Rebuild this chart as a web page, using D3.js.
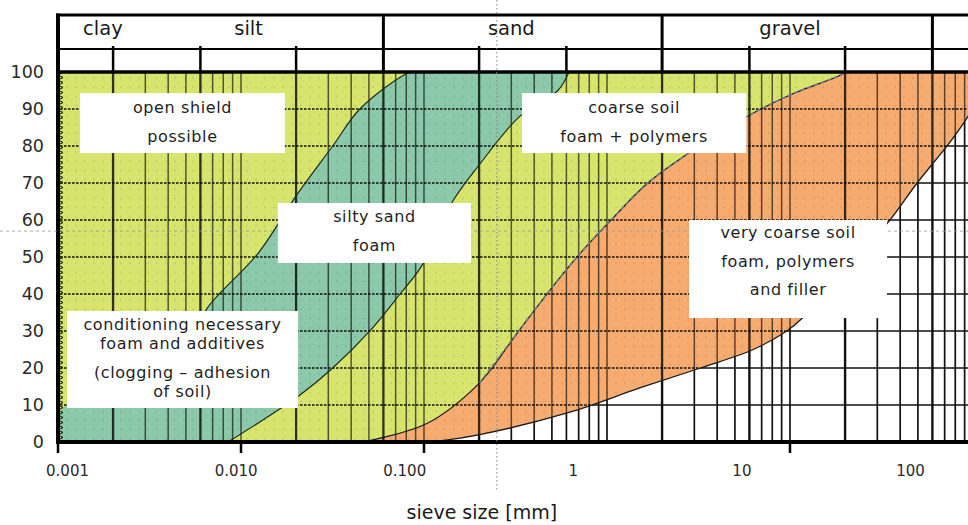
<!DOCTYPE html>
<html>
<head>
<meta charset="utf-8">
<script src="https://cdn.jsdelivr.net/npm/d3@7"></script>
<style>
  body { margin: 0; background: #fff; }
  svg { display: block; }
  text { font-family: "DejaVu Sans", Verdana, sans-serif; }
</style>
</head>
<body>
<svg id="chart" width="968" height="525"></svg>
<script>
// ---- data ---------------------------------------------------------------
// soil classes named in the top band
const soilClasses   = ["clay", "silt", "sand", "gravel"];
const classLabelAt  = [0.00176, 0.011, 0.30, 10];           // mm, where each name sits
const classBounds   = [0.06, 2, 60];                        // full-height dividers (mm)
const subBounds     = [0.002, 0.006, 0.02, 0.2, 0.6, 6, 20]; // short dividers (mm)

// axes
const yTicks        = [0, 10, 20, 30, 40, 50, 60, 70, 80, 90, 100];
const xTickText     = ["0.001", "0.010", "0.100", "1", "10", "100"];
const xTickValues   = [0.001, 0.01, 0.1, 1, 10, 100];
const xTickMarks    = [0.001, 0.01, 0.1, 10];

// grading envelopes: [sieve size mm, % passing]
const tealUpper   = [[0.001, 0], [0.00105, 9], [0.0012, 10.5], [0.002, 12], [0.004, 18], [0.0055, 28],
                     [0.0065, 36], [0.0124, 51], [0.0203, 67], [0.0317, 80], [0.0446, 90], [0.0765, 99], [0.0861, 100]];
const tealLower   = [[0.0085, 0], [0.021, 12.7], [0.0317, 20], [0.0527, 31], [0.074, 40], [0.0984, 48],
                     [0.1433, 65], [0.2011, 75], [0.3335, 88], [0.539, 95], [0.6201, 100]];
const orangeUpper = [[0.0464, 0], [0.1036, 5], [0.2011, 16], [0.3237, 29.5], [0.5053, 42], [0.7433, 52],
                     [1.1, 61], [1.67, 70], [3.2, 80], [5.835, 88], [10.22, 94], [18.6, 99], [20.1, 100]];
const orangeLower = [[0.11, 0], [0.2011, 2], [0.6201, 8], [1.51, 14.6], [3.24, 20], [6.3, 25], [9.6, 30],
                     [11.7, 33.5], [33.9, 59], [49.5, 70], [74.7, 81], [94, 88], [123, 98], [131, 100]];

// annotation boxes: text lines, box extent [d0, d1, pTop, pBottom], baseline offsets (px)
const boxText = [
  ["open shield", "possible"],
  ["silty sand", "foam"],
  ["coarse soil", "foam + polymers"],
  ["very coarse soil", "foam, polymers", "and filler"],
  ["conditioning necessary", "foam and additives", "(clogging \u2013 adhesion", "of soil)"]
];
const boxExtent = [
  [0.00132, 0.01736, 94.3, 78.1],
  [0.0159, 0.1806, 64.6, 48.4],
  [0.343, 5.77, 94.3, 78.1],
  [2.81, 33.9, 60, 33.5],
  [0.00112, 0.0205, 35.4, 9.2]
];
const boxBaselines = [[20, 49], [19, 48], [20, 49], [18, 47, 75], [19, 38, 67, 86]];

// crosshair guide
const guideD = 0.25, guideP = 57;

// ---- layout -------------------------------------------------------------
const svg = d3.select("#chart");
const W = 968, H = 525;
const x = d3.scaleLog().domain([0.001, 1000]).range([58, 1156]);
const y = d3.scaleLinear().domain([0, 100]).range([442, 72]);
const xRight = W;
// tick labels of this chart sit on their own (slightly compressed) log row
const xLabel = d3.scaleLog().domain([0.001, 100]).range([67, 910]);

const colors = { green: "#d7e46e", teal: "#8cc8aa", orange: "#f6ab70" };

const seg = pts => d3.line()
  .x(d => x(d[0])).y(d => y(d[1]))
  .curve(d3.curveCatmullRom.alpha(0.5))(pts);
const cont = pts => seg(pts).replace(/^M/, "L");
const rev = a => a.slice().reverse();

// minor log grid values across visible range
const gridX = [];
for (let e = -3; e <= 2; e++) for (let m = 1; m <= 9; m++) gridX.push(m * Math.pow(10, e));
const heavyX = new Set([...subBounds, ...classBounds, 0.001]);
const innerY = yTicks.slice(1, -1);

const defs = svg.append("defs");

// colored union (everything left of the coarse envelope's lower edge)
const unionPath = `M${x(0.001)},${y(0)}L${x(0.001)},${y(100)}L${x(131)},${y(100)}` +
  cont(rev(orangeLower)) + "Z";
defs.append("clipPath").attr("id", "colored").append("path").attr("d", unionPath);
defs.append("clipPath").attr("id", "plot").append("rect")
  .attr("x", x(0.001)).attr("y", y(100)).attr("width", xRight - x(0.001)).attr("height", y(0) - y(100));

// dotted texture inside the colored bands
const pat = defs.append("pattern").attr("id", "dots").attr("patternUnits", "userSpaceOnUse")
  .attr("width", 9).attr("height", 9.25);
pat.append("circle").attr("cx", 4).attr("cy", 4).attr("r", 0.8).attr("fill", "#000").attr("opacity", 0.15);

// short dashes for the tinted horizontal grid
const dash = defs.append("pattern").attr("id", "hdash").attr("patternUnits", "userSpaceOnUse")
  .attr("width", 4).attr("height", 2);
dash.append("rect").attr("width", 2.6).attr("height", 2).attr("fill", "#000").attr("fill-opacity", 0.68);

// serrated texture along the left axis
const teeth = defs.append("pattern").attr("id", "teeth").attr("patternUnits", "userSpaceOnUse")
  .attr("width", 6).attr("height", 5);
teeth.append("path").attr("d", "M0,1 L3,2.5 L0,4").attr("fill", "none")
  .attr("stroke", "#1b2a05").attr("stroke-width", 1.1);

// ---- plain black grid (visible where nothing is filled) ----------------
const gridPlain = svg.append("g").attr("clip-path", "url(#plot)");
gridPlain.selectAll("line.pv").data(gridX).join("line").attr("class", "pv")
  .attr("x1", d => x(d)).attr("x2", d => x(d)).attr("y1", y(0)).attr("y2", y(100))
  .attr("stroke", "#111").attr("stroke-width", d => heavyX.has(d) ? 2.4 : 1.7);
gridPlain.selectAll("line.ph").data(innerY).join("line").attr("class", "ph")
  .attr("x1", x(0.001)).attr("x2", xRight).attr("y1", d => y(d)).attr("y2", d => y(d))
  .attr("stroke", "#111").attr("stroke-width", 1.6);

// ---- filled envelopes ---------------------------------------------------
const areas = svg.append("g").attr("clip-path", "url(#plot)");
// fine-grained background (left of the coarse envelope)
areas.append("path")
  .attr("d", `M${x(0.001)},${y(0)}L${x(0.001)},${y(100)}L${x(20.1)},${y(100)}` + cont(rev(orangeUpper)) + "Z")
  .attr("fill", colors.green);
// silty sand band
areas.append("path")
  .attr("d", seg(tealUpper) + cont(rev(tealLower)) + `L${x(0.001)},${y(0)}Z`)
  .attr("fill", colors.teal);
// very coarse envelope
areas.append("path")
  .attr("d", seg(orangeUpper) + cont(rev(orangeLower)) + "Z")
  .attr("fill", colors.orange);

// ---- tinted grid over colored bands ------------------------------------
const gridTint = svg.append("g").attr("clip-path", "url(#colored)");
gridTint.append("rect").attr("x", x(0.001)).attr("y", y(100))
  .attr("width", xRight - x(0.001)).attr("height", y(0) - y(100)).attr("fill", "url(#dots)");
gridTint.selectAll("rect.th").data(innerY).join("rect").attr("class", "th")
  .attr("x", x(0.001)).attr("width", xRight - x(0.001))
  .attr("y", d => y(d) - 1).attr("height", 2)
  .attr("fill", "url(#hdash)");
gridTint.selectAll("line.tv").data(gridX).join("line").attr("class", "tv")
  .attr("x1", d => x(d)).attr("x2", d => x(d)).attr("y1", y(0)).attr("y2", y(100))
  .attr("stroke", "#000").attr("stroke-opacity", d => heavyX.has(d) ? 0.78 : 0.62)
  .attr("stroke-width", d => heavyX.has(d) ? 2.3 : 1.5);
gridTint.append("rect").attr("x", x(0.001) + 1).attr("y", y(100)).attr("width", 4)
  .attr("height", y(0) - y(100)).attr("fill", "url(#teeth)");

// envelope outlines on top of the grid
const outlines = svg.append("g").attr("clip-path", "url(#plot)").attr("fill", "none");
outlines.append("path").attr("d", seg(tealUpper.slice(3)))
  .attr("stroke", "#1d2a1a").attr("stroke-width", 1.2);
outlines.append("path").attr("d", seg(tealLower))
  .attr("stroke", "#1d2a1a").attr("stroke-width", 1.2);
outlines.append("path").attr("d", seg(orangeUpper))
  .attr("stroke", "#1a1a1a").attr("stroke-width", 1.2);
outlines.append("path").attr("d", seg(orangeUpper.slice(2)))
  .attr("stroke", "#6f7f90").attr("stroke-width", 1.6).attr("stroke-dasharray", "4,3");
outlines.append("path").attr("d", seg(orangeLower))
  .attr("stroke", "#1a1a1a").attr("stroke-width", 1.3);

// ---- classification band on top ----------------------------------------
const band = svg.append("g");
band.append("line").attr("x1", x(0.001) - 2).attr("x2", xRight).attr("y1", 15).attr("y2", 15)
  .attr("stroke", "#000").attr("stroke-width", 3);
band.append("line").attr("x1", x(0.001)).attr("x2", xRight).attr("y1", 49).attr("y2", 49)
  .attr("stroke", "#000").attr("stroke-width", 2);
band.append("line").attr("x1", x(0.001) - 2).attr("x2", xRight).attr("y1", y(100)).attr("y2", y(100))
  .attr("stroke", "#000").attr("stroke-width", 3.5);
band.selectAll("line.cb").data(classBounds).join("line").attr("class", "cb")
  .attr("x1", d => x(d)).attr("x2", d => x(d)).attr("y1", 15).attr("y2", y(100))
  .attr("stroke", "#000").attr("stroke-width", 3);
band.selectAll("line.sb").data(subBounds).join("line").attr("class", "sb")
  .attr("x1", d => x(d)).attr("x2", d => x(d)).attr("y1", 46).attr("y2", y(100))
  .attr("stroke", "#000").attr("stroke-width", 2.5);
band.selectAll("text").data(soilClasses).join("text")
  .attr("x", (d, i) => x(classLabelAt[i])).attr("y", 35)
  .attr("text-anchor", "middle").attr("font-size", 19.5).attr("fill", "#1a1a1a").text(d => d);

// ---- axes ---------------------------------------------------------------
svg.append("line").attr("x1", x(0.001)).attr("x2", x(0.001)).attr("y1", 13.5).attr("y2", y(0) + 2)
  .attr("stroke", "#000").attr("stroke-width", 4);
svg.append("line").attr("x1", x(0.001) - 2).attr("x2", xRight).attr("y1", y(0)).attr("y2", y(0))
  .attr("stroke", "#000").attr("stroke-width", 4);
svg.selectAll("line.tm").data(xTickMarks).join("line").attr("class", "tm")
  .attr("x1", d => x(d)).attr("x2", d => x(d)).attr("y1", y(0)).attr("y2", y(0) + 11)
  .attr("stroke", "#000").attr("stroke-width", 2.5);

const yAxis = svg.append("g").attr("transform", `translate(${x(0.001)},0)`)
  .call(d3.axisLeft(y).tickValues(yTicks).tickSize(0).tickPadding(14).tickFormat(d3.format("d")));
yAxis.select(".domain").remove();
yAxis.selectAll("text").attr("font-size", 17.5).attr("fill", "#2a2a2a")
  .attr("font-family", "'DejaVu Sans', sans-serif");

const xAxis = svg.append("g").attr("transform", `translate(0,${y(0)})`)
  .call(d3.axisBottom(xLabel).tickValues(xTickValues).tickSize(0).tickPadding(23)
    .tickFormat((d, i) => xTickText[i]));
xAxis.select(".domain").remove();
xAxis.selectAll("text").attr("font-size", 15).attr("fill", "#2a2a2a")
  .attr("font-family", "'DejaVu Sans', sans-serif");

svg.append("text").attr("x", x(0.25) - 15).attr("y", 519).attr("text-anchor", "middle")
  .attr("font-size", 19).attr("fill", "#1a1a1a").text("sieve size [mm]");

// ---- crosshair guides ---------------------------------------------------
svg.append("line").attr("x1", x(guideD)).attr("x2", x(guideD)).attr("y1", 0).attr("y2", 492)
  .attr("stroke", "#888").attr("stroke-width", 1).attr("stroke-dasharray", "1.5,2.5");
svg.append("line").attr("x1", 0).attr("x2", W).attr("y1", y(guideP)).attr("y2", y(guideP))
  .attr("stroke", "#999").attr("stroke-width", 0.8).attr("stroke-dasharray", "3,3");

// ---- annotation boxes ---------------------------------------------------
const boxes = svg.append("g").selectAll("g").data(boxText).join("g");
boxes.append("rect")
  .attr("x", (d, i) => x(boxExtent[i][0])).attr("y", (d, i) => y(boxExtent[i][2]))
  .attr("width", (d, i) => x(boxExtent[i][1]) - x(boxExtent[i][0]))
  .attr("height", (d, i) => y(boxExtent[i][3]) - y(boxExtent[i][2]))
  .attr("fill", "#fff");
boxes.each(function (lines, i) {
  const e = boxExtent[i];
  const cx = (x(e[0]) + x(e[1])) / 2, top = y(e[2]);
  d3.select(this).selectAll("text").data(lines).join("text")
    .attr("x", cx).attr("y", (d, j) => top + boxBaselines[i][j])
    .attr("text-anchor", "middle").attr("font-size", 16).attr("letter-spacing", 0.6)
    .attr("fill", "#1e1e1e").text(d => d);
});
</script>
</body>
</html>
